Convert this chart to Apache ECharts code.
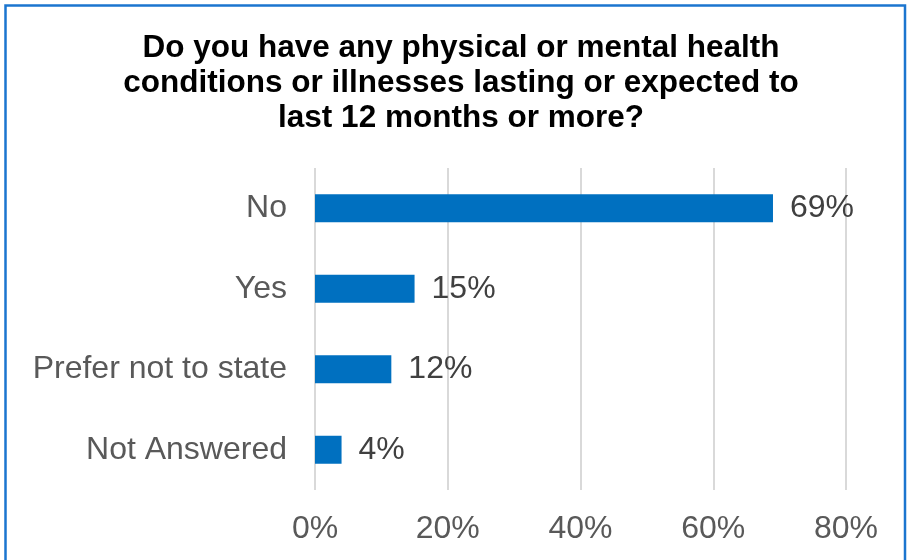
<!DOCTYPE html>
<html>
<head>
<meta charset="utf-8">
<script src="https://cdn.jsdelivr.net/npm/echarts@6/dist/echarts.min.js"></script>
<style>
html,body{margin:0;padding:0;background:#fff;}
#chart{width:908px;height:560px;}
</style>
</head>
<body>
<div id="chart"></div>
<script>
const titleText = "Do you have any physical or mental health\nconditions or illnesses lasting or expected to\nlast 12 months or more?";
const categories = ["No", "Yes", "Prefer not to state", "Not Answered"];
const values = [69, 15, 11.5, 4];
const axisTicks = [0, 20, 40, 60, 80];

const chart = echarts.init(document.getElementById('chart'), null, {renderer: 'canvas'});
chart.setOption({
  animation: false,
  backgroundColor: '#ffffff',
  title: {
    text: titleText,
    left: 461,
    textAlign: 'center',
    top: 31,
    padding: 0,
    textStyle: {
      fontFamily: 'Liberation Sans',
      fontWeight: 'bold',
      fontSize: 31.5,
      lineHeight: 35,
      color: '#000000'
    }
  },
  graphic: [{
    type: 'rect',
    silent: true,
    shape: {x: 5.5, y: 5.5, width: 899.5, height: 600},
    style: {fill: 'none', stroke: '#1B75CF', lineWidth: 2.5}
  }],
  grid: {left: 315, right: 62, top: 168, bottom: 70, containLabel: false},
  xAxis: {
    type: 'value',
    min: axisTicks[0],
    max: axisTicks[axisTicks.length - 1],
    interval: 20,
    axisLine: {show: false},
    axisTick: {show: false},
    splitLine: {show: true, lineStyle: {color: '#D9D9D9', width: 2}},
    axisLabel: {
      margin: 23,
      formatter: v => v + '%',
      fontFamily: 'Liberation Sans',
      fontSize: 32,
      color: '#595959'
    }
  },
  yAxis: {
    type: 'category',
    data: categories,
    inverse: true,
    axisLine: {show: false},
    axisTick: {show: false},
    axisLabel: {
      margin: 28,
      padding: [4, 0, 0, 0],
      fontFamily: 'Liberation Sans',
      fontSize: 32,
      color: '#595959'
    }
  },
  series: [{
    type: 'bar',
    data: values,
    barWidth: 28,
    itemStyle: {color: '#0070C0'},
    label: {
      show: true,
      position: 'right',
      distance: 17,
      padding: [5, 0, 0, 0],
      formatter: p => Math.round(p.value) + '%',
      fontFamily: 'Liberation Sans',
      fontSize: 32,
      color: '#404040'
    }
  }]
});
</script>
</body>
</html>
